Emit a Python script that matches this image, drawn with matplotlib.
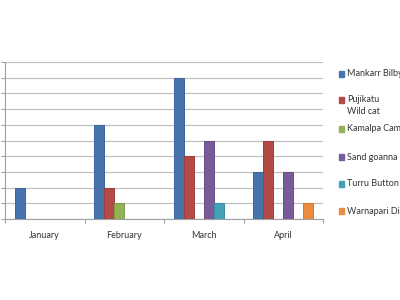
import matplotlib
matplotlib.use("Agg")
import matplotlib.pyplot as plt
from matplotlib.patches import Rectangle
import numpy as np

months = ["January", "February", "March", "April"]
series_names = ["Mankarr Bilby", "Pujikatu\nWild cat", "Kamalpa Camel",
                "Sand goanna", "Turru Button quail", "Warnapari Dingo"]
bilby = [2, 6, 9, 3]
wildcat = [0, 2, 4, 5]
camel = [0, 1, 0, 0]
goanna = [0, 0, 5, 3]
quail = [0, 0, 1, 0]
dingo = [0, 0, 0, 1]
values = [bilby, wildcat, camel, goanna, quail, dingo]
colors = ["#4774AC", "#B44A46", "#93B255", "#785C99", "#43A2B8", "#EB8B3D"]
edges = ["#3C659A", "#9E3F3C", "#7F9C48", "#674F86", "#3A8EA2", "#D27A33"]

plt.rcParams['font.family'] = ['Lato', 'DejaVu Sans']

fig = plt.figure(figsize=(4, 3), dpi=100)
ax = fig.add_axes([5/400, 81/300, 318/400, 157/300])

x = np.arange(len(months))
w = 1/8
for i, (vals, c, e) in enumerate(zip(values, colors, edges)):
    lws = [0.7 if v > 0 else 0 for v in vals]
    ax.bar(x + (i - 2.5) * w, vals, width=w, color=c,
           edgecolor=e, linewidth=lws, zorder=3)

ax.set_xlim(-0.5, len(months) - 0.5)
ax.set_ylim(0, 10)
ax.set_yticks(np.arange(0, 11, 1))
ax.set_yticklabels([])
ax.yaxis.grid(True, color="#c0c0c0", linewidth=0.9, zorder=0)
ax.set_xticks(x)
ax.set_xticklabels(months, fontsize=6.5, color="#333333")
ax.tick_params(axis='x', which='major', length=0, pad=9)
ax.set_xticks(np.arange(-0.5, len(months), 1), minor=True)
ax.tick_params(axis='x', which='minor', length=3, color="#a0a0a0", width=0.8)
ax.tick_params(axis='y', length=3, color="#a0a0a0", width=0.8)
for s in ["top", "right"]:
    ax.spines[s].set_visible(False)
for s in ["left", "bottom"]:
    ax.spines[s].set_color("#a0a0a0")
    ax.spines[s].set_linewidth(0.8)

# legend
ys = [74, 100, 129, 157, 184, 211]
for name, c, yp in zip(series_names, colors, ys):
    fy = 1 - yp / 300
    fig.patches.append(Rectangle((339/400, fy - 3/300), 5/400, 6/300,
                                 transform=fig.transFigure, color=c))
    if "\n" in name:
        fig.text(347/400, fy + 5/300, name, fontsize=6.5, va='top',
                 ha='left', color="#333333", linespacing=1.5)
    else:
        fig.text(347/400, fy, name, fontsize=6.5, va='center',
                 ha='left', color="#333333")

fig.savefig("out.png", dpi=100, facecolor="white")
